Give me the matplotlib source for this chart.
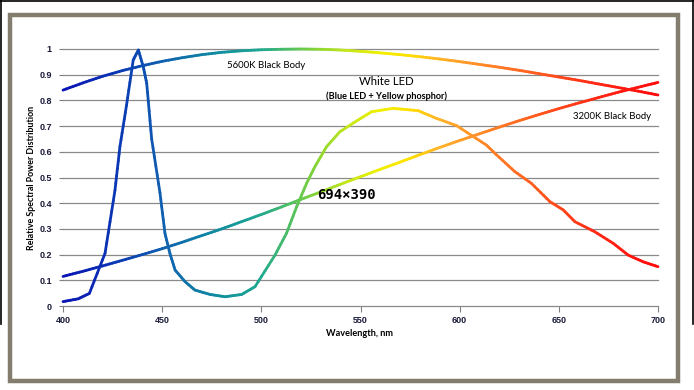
import numpy as np
import matplotlib
matplotlib.use("Agg")
import matplotlib.pyplot as plt
from matplotlib.collections import LineCollection
from matplotlib.colors import LinearSegmentedColormap, Normalize
from matplotlib.patches import Rectangle
from matplotlib.lines import Line2D

# black body curves
bb_wl = list(range(400, 701, 10))
bb5600 = [0.840, 0.868, 0.894, 0.916, 0.935, 0.952, 0.966, 0.978, 0.987, 0.993, 0.997,
          0.999, 1.0, 0.999, 0.996, 0.991, 0.985, 0.978, 0.970, 0.961, 0.951,
          0.940, 0.929, 0.917, 0.904, 0.891, 0.878, 0.864, 0.850, 0.836, 0.821]
bb3200 = [0.115, 0.135, 0.156, 0.178, 0.200, 0.223, 0.248, 0.274, 0.300, 0.328, 0.356,
          0.385, 0.415, 0.444, 0.474, 0.503, 0.532, 0.560, 0.589, 0.617, 0.644,
          0.670, 0.696, 0.721, 0.745, 0.768, 0.790, 0.811, 0.832, 0.851, 0.870]

# white LED (blue LED + yellow phosphor)
led_wl = [400, 407.7, 413.3, 421.2, 426.2, 428.7, 432, 435.4, 438, 440.5, 442.2, 444.7,
          448.9, 451.4, 453.9, 456.5, 461.5, 466.5, 474.1, 481.7, 490.1, 496.8, 506.9,
          512.7, 517.8, 522.8, 527, 532.9, 539.6, 548, 555.6, 566.5, 579.1, 588.3, 598.4,
          613.5, 618.6, 627.8, 636.2, 645.5, 652.2, 658.1, 668.1, 677.4, 685, 692.5, 700]
led = [0.017, 0.028, 0.049, 0.205, 0.45, 0.62, 0.78, 0.957, 0.996, 0.93, 0.867, 0.65,
       0.44, 0.283, 0.205, 0.14, 0.095, 0.062, 0.045, 0.036, 0.045, 0.075, 0.198,
       0.283, 0.386, 0.477, 0.542, 0.62, 0.678, 0.72, 0.756, 0.769, 0.76, 0.73, 0.702,
       0.626, 0.588, 0.523, 0.477, 0.406, 0.374, 0.328, 0.289, 0.244, 0.198, 0.172, 0.153]

# wavelength -> colour
stops = [(400, "#0A14B4"), (430, "#0A3CB4"), (450, "#1060B0"), (480, "#1090A0"),
         (500, "#20A890"), (515, "#50C060"), (530, "#90D830"), (545, "#C8E818"),
         (560, "#F0F000"), (575, "#FFE000"), (590, "#FFB428"), (610, "#FF8C28"),
         (640, "#FF5A1E"), (670, "#FF2814"), (700, "#FF0A0A")]
spec = LinearSegmentedColormap.from_list(
    "spec", [((w - 400) / 300, c) for w, c in stops])
norm = Normalize(400, 700)

fig = plt.figure(figsize=(6.94, 3.9), dpi=100)
fig.patch.set_facecolor("white")

W, H = 694, 390
def px(x, y):
    return x / W, 1 - y / H

# outer frame bits
fig.add_artist(Rectangle(px(10, 381), 668 / W, 366 / H, transform=fig.transFigure,
                         fill=False, edgecolor="#847C6C", linewidth=3.2))
for xs, ys in [((0, 694), (0.5, 0.5)), ((0.5, 0.5), (0, 324)), ((693, 693), (0, 324))]:
    p0 = px(xs[0], ys[0]); p1 = px(xs[1], ys[1])
    fig.add_artist(Line2D([p0[0], p1[0]], [p0[1], p1[1]], transform=fig.transFigure,
                          color="black", linewidth=1.2))

ax = fig.add_axes([63 / W, 1 - 306 / H, (658 - 63) / W, (306 - 49) / H])
ax.set_xlim(400, 700)
ax.set_ylim(0, 1)
for s in ax.spines.values():
    s.set_visible(False)
ax.set_yticks(np.arange(0, 1.01, 0.1))
ax.set_yticklabels(["0"] + ["%.1f" % v for v in np.arange(0.1, 0.95, 0.1)] + ["1"])
ax.set_xticks([400, 450, 500, 550, 600, 650, 700])
ax.tick_params(axis="y", length=3, color="#808080", pad=5, labelsize=6.5, labelcolor="#1a1a3a")
ax.tick_params(axis="x", length=4, color="#808080", pad=3, labelsize=6.5, labelcolor="#1a1a3a")
for lab in ax.get_xticklabels() + ax.get_yticklabels():
    lab.set_fontweight("bold")
    lab.set_family("Liberation Sans")
ax.grid(axis="y", color="#8a8a8a", linewidth=0.9, clip_on=False)
ax.set_axisbelow(True)


def spectral_line(wl, vals):
    wl = np.asarray(wl, float)
    vals = np.asarray(vals, float)
    # split each segment into small pieces so the colour can follow the wavelength
    fx, fy = [], []
    for i in range(len(wl) - 1):
        t = np.linspace(0, 1, 6, endpoint=False)
        fx.extend(wl[i] + t * (wl[i + 1] - wl[i]))
        fy.extend(vals[i] + t * (vals[i + 1] - vals[i]))
    fx.append(wl[-1]); fy.append(vals[-1])
    pts = np.column_stack([fx, fy]).reshape(-1, 1, 2)
    segs = np.concatenate([pts[:-1], pts[1:]], axis=1)
    mid = (np.array(fx[:-1]) + np.array(fx[1:])) / 2
    lc = LineCollection(segs, colors=spec(norm(mid)), linewidths=2.0,
                        capstyle="round", joinstyle="round", clip_on=False)
    ax.add_collection(lc)


spectral_line(bb_wl, bb5600)
spectral_line(bb_wl, bb3200)
spectral_line(led_wl, led)

tf = "Lato"
ax.text(482.5, 0.934, "5600K Black Body", fontsize=6.9, family=tf, va="center", ha="left")
ax.text(657, 0.737, "3200K Black Body", fontsize=6.9, family=tf, va="center", ha="left")
ax.text(563, 0.875, "White LED", fontsize=8.2, family=tf, va="center", ha="center")
ax.text(563, 0.818, "(Blue LED + Yellow phosphor)", fontsize=6.6, family=tf,
        fontweight="bold", va="center", ha="center")

fig.text(32 / W, 1 - 178 / H, "Relative Spectral Power Distribution", rotation=90,
         fontsize=6.4, family=tf, fontweight="bold", ha="center", va="center")
fig.text(360 / W, 1 - 333 / H, "Wavelength, nm", fontsize=6.6, family=tf,
         fontweight="bold", ha="center", va="center")
fig.text(346 / W, 1 - 195 / H, "694×390", fontsize=10, family="DejaVu Sans Mono",
         fontweight="bold", ha="center", va="center")

fig.savefig("out.png", dpi=100)
